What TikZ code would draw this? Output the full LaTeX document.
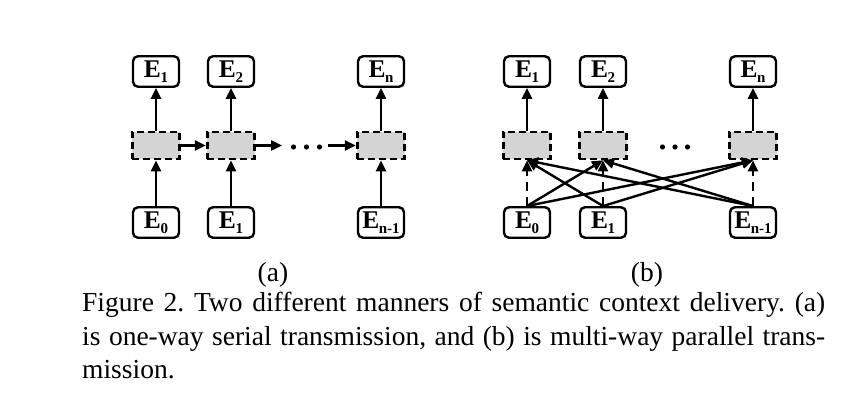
\documentclass[tikz,border=0pt]{standalone}
\usepackage{fontspec}
\setmainfont{Liberation Serif}
\usetikzlibrary{arrows.meta}
\newcommand{\Elab}[1]{\textbf{E}\kern-0.5pt\raisebox{-4.5pt}{\fontsize{15}{15}\selectfont\textbf{#1}}}
\begin{document}
\frenchspacing
\begin{tikzpicture}[x=1pt,y=-1pt,
  ebox/.style={draw,line width=2.4pt,rounded corners=5pt,minimum width=46pt,minimum height=30.5pt,inner sep=0pt,font=\fontsize{25.5}{26}\selectfont},
  dbox/.style={draw,line width=2.6pt,dash pattern=on 7pt off 4pt,fill=black!17,minimum width=47.5pt,minimum height=27pt,inner sep=0pt},
  arr/.style={line width=2.4pt,-{Triangle[length=11pt,width=10pt]}},
  darr/.style={arr,dash pattern=on 9pt off 6pt},
  lab/.style={anchor=base,inner sep=0pt,font=\fontsize{27.5}{33}\selectfont},
  captext/.style={anchor=base west,inner sep=0pt,font=\fontsize{27.5}{33}\selectfont}]
\useasboundingbox (0,0) rectangle (860,406);
% ---- (a) ----
\node[ebox] (at1) at (156,71.5) {\Elab{1}};
\node[ebox] (at2) at (231,71.5) {\Elab{2}};
\node[ebox] (at3) at (381,71.5) {\Elab{n}};
\node[dbox] (ad1) at (156,145.5) {};
\node[dbox] (ad2) at (231,145.5) {};
\node[dbox] (ad3) at (381,145.5) {};
\node[ebox] (ab1) at (156,222.5) {\Elab{0}};
\node[ebox] (ab2) at (231,222.5) {\Elab{1}};
\node[ebox] (ab3) at (381,222.5) {\Elab{n-1}};
\foreach \i in {1,2,3}{
  \draw[arr] (ab\i.north) -- (ad\i.south);
  \draw[arr] (ad\i.north) -- (at\i.south);
}
\coordinate (aend) at (282,145.5);
\coordinate (astart) at (328,145.5);
\draw[arr] (ad1.east) -- (ad2.west);
\draw[arr] (ad2.east) -- (aend);
\draw[arr] (astart) -- (ad3.west);
\foreach \x in {293.5,306.5,319.5}{\fill (\x,147) circle (2.6pt);}
\node[lab] (la) at (273,282) {(a)};
% ---- (b) ----
\node[ebox] (bt1) at (527,71.5) {\Elab{1}};
\node[ebox] (bt2) at (603,71.5) {\Elab{2}};
\node[ebox] (bt3) at (753,71.5) {\Elab{n}};
\node[dbox] (bd1) at (527,145.5) {};
\node[dbox] (bd2) at (603,145.5) {};
\node[dbox] (bd3) at (753,145.5) {};
\node[ebox] (bb1) at (527,222.5) {\Elab{0}};
\node[ebox] (bb2) at (603,222.5) {\Elab{1}};
\node[ebox] (bb3) at (753,222.5) {\Elab{n-1}};
\foreach \i in {1,2,3}{
  \draw[darr] (bb\i.north) -- (bd\i.south);
  \draw[arr] (bd\i.north) -- (bt\i.south);
}
\draw[arr] (bb1.north) -- (bd2.south);
\draw[arr] (bb1.north) -- (bd3.south);
\draw[arr] (bb2.north) -- (bd1.south);
\draw[arr] (bb2.north) -- (bd3.south);
\draw[arr] (bb3.north) -- (bd1.south);
\draw[arr] (bb3.north) -- (bd2.south);
\foreach \x in {662.5,675,687.5}{\fill (\x,147) circle (2.6pt);}
\node[lab] (lb) at (647,282) {(b)};
% ---- caption ----
\node[captext] (c1) at (82,312) {\makebox[743pt][s]{Figure 2. Two different manners of semantic context delivery.\ (a)}};
\node[captext] (c2) at (82,345) {\makebox[743pt][s]{is one-way serial transmission, and (b) is multi-way parallel trans-}};
\node[captext] (c3) at (82,378) {mission.};
\end{tikzpicture}
\end{document}
